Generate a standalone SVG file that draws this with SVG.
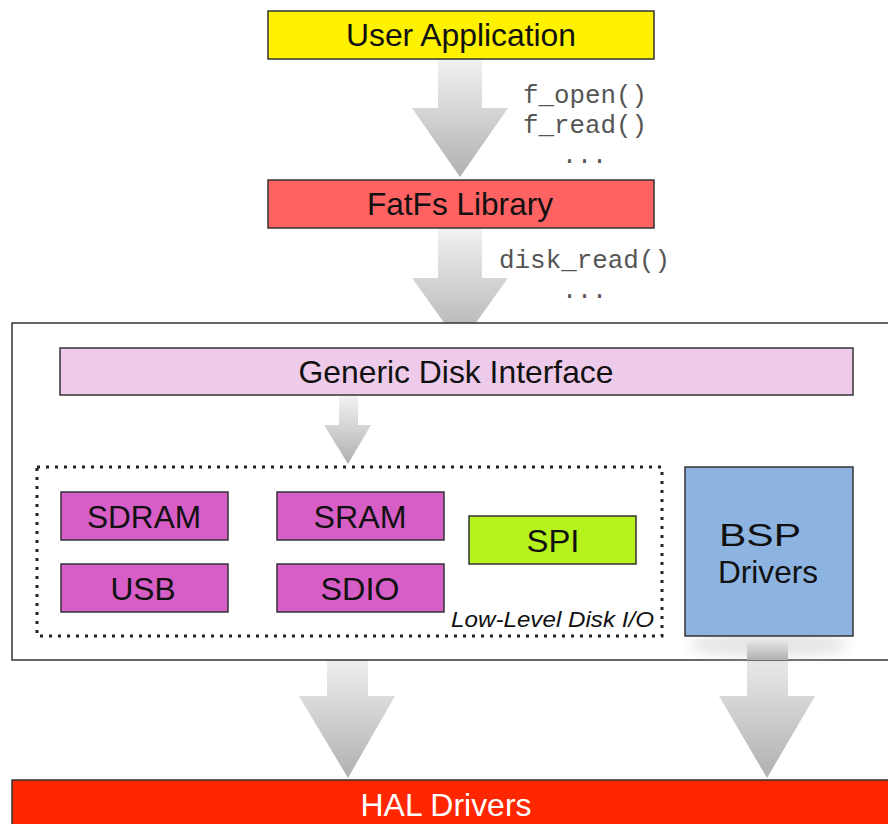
<svg xmlns="http://www.w3.org/2000/svg" width="888" height="824" viewBox="0 0 888 824">
<defs>
<linearGradient id="ag" x1="0" y1="0" x2="0" y2="1">
<stop offset="0" stop-color="#f2f2f2"/>
<stop offset="1" stop-color="#b0b0b0"/>
</linearGradient>
<filter id="sh" x="-20%" y="-20%" width="140%" height="150%">
<feGaussianBlur stdDeviation="6"/>
</filter>
</defs>
<style>
.box{stroke:#333;stroke-width:1.5}
.t{font-family:"Liberation Sans",Arial,sans-serif;font-size:32px;fill:#111;text-anchor:middle}
.m{font-family:"Liberation Mono","Courier New",monospace;font-size:25px;fill:#555}
.arrow{fill:url(#ag)}
</style>
<rect width="888" height="824" fill="#fff"/>

<g id="connectors">
<path class="arrow" d="M438,59 H482 V108 H508 L460,177 L412,108 H438 Z"/>
<path class="arrow" d="M438,228 H482 V278 H508 L460,345 L412,278 H438 Z"/>
<path class="arrow" d="M327,655 H368 V696 H395 L348,778 L299,696 H327 Z"/>
<path class="arrow" d="M747,640 H788 V696 H815 L767,778 L719,696 H747 Z"/>
</g>

<g id="container">
<rect x="12" y="323" width="890" height="337" fill="#fff" stroke="#333" stroke-width="1.5"/>
</g>

<g id="connectors-inner">
<path class="arrow" d="M339,396 H358 V425 H371 L348,464 L324,425 H339 Z"/>
<ellipse cx="769" cy="645" rx="80" ry="12" fill="#ccc" opacity="0.5" filter="url(#sh)"/>
<path class="arrow" d="M747,636 H788 V660 H747 Z"/>
</g>

<g id="user-app">
<rect class="box" x="268" y="11" width="386" height="48" fill="#fff200"/>
<text class="t" x="461" y="46" textLength="230" lengthAdjust="spacingAndGlyphs">User Application</text>
</g>
<g id="labels1">
<text class="m" x="523" y="103" textLength="124" lengthAdjust="spacingAndGlyphs">f_open()</text>
<text class="m" x="523" y="133" textLength="124" lengthAdjust="spacingAndGlyphs">f_read()</text>
<text class="m" x="562" y="163">...</text>
</g>

<g id="fatfs">
<rect class="box" x="268" y="180" width="386" height="48" fill="#ff6262"/>
<text class="t" x="460" y="215" textLength="186" lengthAdjust="spacingAndGlyphs">FatFs Library</text>
</g>
<g id="labels2">
<text class="m" x="499" y="268" textLength="171" lengthAdjust="spacingAndGlyphs">disk_read()</text>
<text class="m" x="562" y="298">...</text>
</g>

<g id="generic">
<rect class="box" x="60" y="348" width="793" height="47" fill="#eecbea"/>
<text class="t" x="456" y="383" textLength="315" lengthAdjust="spacingAndGlyphs">Generic Disk Interface</text>
</g>

<g id="lowlevel">
<rect x="37" y="467" width="625" height="169" fill="none" stroke="#222" stroke-width="3" stroke-dasharray="3 6"/>
<text x="654" y="627" font-family="'Liberation Sans',Arial,sans-serif" font-size="22" font-style="italic" fill="#111" text-anchor="end" textLength="203" lengthAdjust="spacingAndGlyphs">Low-Level Disk I/O</text>
</g>

<g id="sdram">
<rect class="box" x="61" y="492" width="167" height="48" fill="#d65ec6"/>
<text class="t" x="144" y="528" textLength="114" lengthAdjust="spacingAndGlyphs">SDRAM</text>
</g>
<g id="sram">
<rect class="box" x="277" y="492" width="167" height="48" fill="#d65ec6"/>
<text class="t" x="360" y="528" textLength="93" lengthAdjust="spacingAndGlyphs">SRAM</text>
</g>
<g id="usb">
<rect class="box" x="61" y="564" width="167" height="48" fill="#d65ec6"/>
<text class="t" x="143" y="600" textLength="65" lengthAdjust="spacingAndGlyphs">USB</text>
</g>
<g id="sdio">
<rect class="box" x="277" y="564" width="167" height="48" fill="#d65ec6"/>
<text class="t" x="360" y="600" textLength="79" lengthAdjust="spacingAndGlyphs">SDIO</text>
</g>
<g id="spi">
<rect class="box" x="469" y="516" width="167" height="48" fill="#b6f21c"/>
<text class="t" x="553" y="552" textLength="53" lengthAdjust="spacingAndGlyphs">SPI</text>
</g>

<g id="bsp">
<rect class="box" x="685" y="467" width="168" height="169" fill="#8db3e0"/>
<text class="t" x="760" y="546" textLength="82" lengthAdjust="spacingAndGlyphs">BSP</text>
<text class="t" x="768" y="583" textLength="100" lengthAdjust="spacingAndGlyphs">Drivers</text>
</g>

<g id="hal">
<rect class="box" x="12" y="780" width="890" height="50" fill="#ff2600"/>
<text class="t" x="446" y="816" style="fill:#fff" textLength="171" lengthAdjust="spacingAndGlyphs">HAL Drivers</text>
</g>
</svg>
